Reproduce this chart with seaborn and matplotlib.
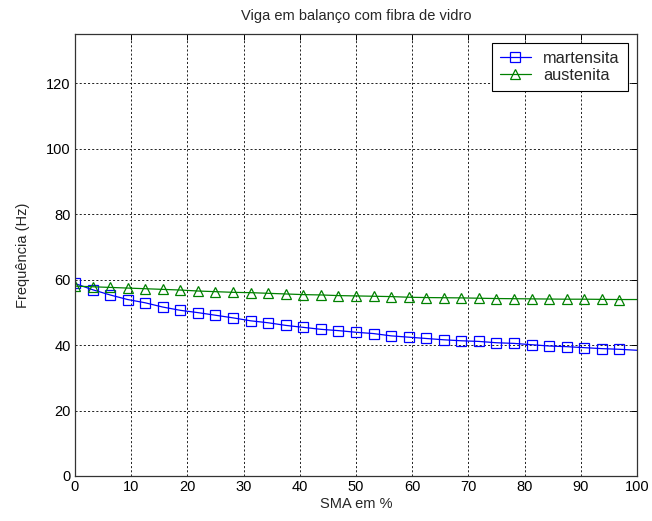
import numpy as np
import pandas as pd
import matplotlib
matplotlib.use("Agg")
import matplotlib.pyplot as plt
import seaborn as sns

sma = [i * 3.125 for i in range(33)]
martensita = [58.8, 56.9, 55.3, 53.9, 52.9, 51.6, 50.6, 49.9, 49.1, 48.3, 47.4,
              46.8, 46.0, 45.4, 44.8, 44.4, 43.9, 43.5, 42.8, 42.4, 42.0, 41.6,
              41.3, 41.1, 40.7, 40.5, 40.1, 39.7, 39.5, 39.2, 38.9, 38.7, 38.4]
austenita = [58.0, 57.8, 57.6, 57.4, 57.2, 57.0, 56.8, 56.5, 56.3, 56.1, 56.0,
             55.8, 55.6, 55.4, 55.3, 55.1, 55.0, 54.9, 54.8, 54.6, 54.5, 54.45,
             54.4, 54.3, 54.2, 54.15, 54.1, 54.05, 54.0, 54.0, 53.95, 53.9, 53.9]
xticks = list(range(0, 101, 10))
yticks = list(range(0, 121, 20))

sns.set_style("white")
plt.rcParams['font.family'] = ['Liberation Sans', 'DejaVu Sans']

df = pd.DataFrame({"sma": sma, "mart": martensita, "aust": austenita})

fig = plt.figure(figsize=(6.52, 5.21), dpi=100, facecolor="white")
ax = fig.add_axes([0.115, 0.0864, 0.862, 0.8483])

fs = 10.5
mk = list(range(32))
sns.lineplot(data=df, x="sma", y="mart", ax=ax, color="#0000ff", marker="s",
             markersize=6.8, markerfacecolor="none", markeredgecolor="#0000ff",
             markeredgewidth=0.9, linewidth=0.9, markevery=mk, label="martensita")
sns.lineplot(data=df, x="sma", y="aust", ax=ax, color="#008000", marker="^",
             markersize=7.5, markerfacecolor="none", markeredgecolor="#008000",
             markeredgewidth=0.9, linewidth=0.9, markevery=mk, label="austenita")

ax.set_xlim(0, 100)
ax.set_ylim(0, 135)
ax.set_xticks(xticks)
ax.set_yticks(yticks)
ax.grid(True, color="black", linestyle=(0, (2.5, 2.5)), linewidth=0.6)
ax.tick_params(direction="in", length=4, width=0.7, top=True, right=True,
               labelsize=fs, colors="black", pad=3)
for s in ax.spines.values():
    s.set_visible(True)
    s.set_color("#333333")
    s.set_linewidth(0.9)

ax.set_xlabel("SMA em %", fontsize=fs, labelpad=2)
ax.set_ylabel("Frequência (Hz)", fontsize=fs, labelpad=12)
ax.set_title("Viga em balanço com fibra de vidro", fontsize=fs, pad=10)

leg = ax.legend(loc="upper right", fontsize=11.8, frameon=True, fancybox=False,
                edgecolor="black", framealpha=1, borderaxespad=0.55,
                handlelength=1.9, borderpad=0.5, labelspacing=0.08,
                handletextpad=0.75)
leg.get_frame().set_linewidth(0.8)

fig.savefig("out.png", dpi=100, facecolor="white")
